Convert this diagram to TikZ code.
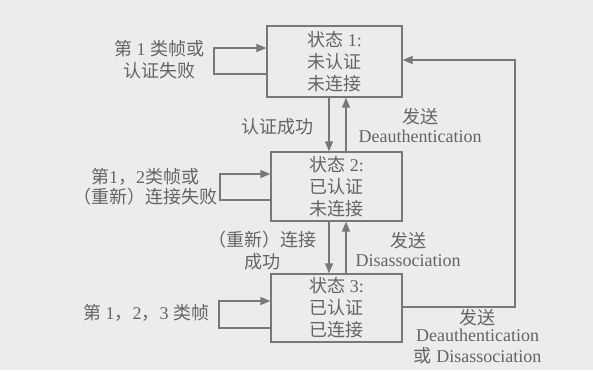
\documentclass[tikz,border=0pt]{standalone}
\usepackage{fontspec}
\setmainfont{Liberation Serif}
\newfontfamily\cjk{Noto Sans CJK SC}
\usetikzlibrary{arrows.meta}
\definecolor{bgc}{RGB}{236,236,234}
\definecolor{linec}{RGB}{120,120,120}
\definecolor{txtc}{RGB}{100,100,100}
\newcommand{\zh}[1]{{\cjk #1}}
\begin{document}
\begin{tikzpicture}[x=1pt,y=-1pt,
  state/.style={draw=linec, line width=1.3pt, align=center, inner sep=0pt, text=txtc, font=\fontsize{18}{22}\selectfont},
  lbl/.style={text=txtc, align=center, inner sep=0pt, font=\fontsize{18}{22}\selectfont},
  arr/.style={draw=linec, line width=1.3pt, -{Triangle[length=10pt,width=8pt]}}]
\fill[bgc] (0,0) rectangle (593,370);
\useasboundingbox (0,0) rectangle (593,370);
\node[state, minimum width=135pt, minimum height=71pt] (b1) at (334.5,61.5) {\zh{状态} 1:\\\zh{未认证}\\\zh{未连接}};
\node[state, minimum width=131pt, minimum height=69pt] (b2) at (336.5,186.5) {\zh{状态} 2:\\\zh{已认证}\\\zh{未连接}};
\node[state, minimum width=131pt, minimum height=68pt] (b3) at (336.5,308) {\zh{状态} 3:\\\zh{已认证}\\\zh{已连接}};
% self loops
\coordinate (l1a) at (214,74); \coordinate (l1b) at (214,48);
\draw[arr] (b1.west |- l1a) -- (l1a) -- (l1b) -- (b1.west |- l1b);
\coordinate (l2a) at (220,200); \coordinate (l2b) at (220,174);
\draw[arr] (b2.west |- l2a) -- (l2a) -- (l2b) -- (b2.west |- l2b);
\coordinate (l3a) at (219,328); \coordinate (l3b) at (219,301);
\draw[arr] (b3.west |- l3a) -- (l3a) -- (l3b) -- (b3.west |- l3b);
% vertical transitions
\coordinate (dn) at (329,0); \coordinate (up) at (346,0);
\draw[arr] (dn |- b1.south) -- (dn |- b2.north);
\draw[arr] (up |- b2.north) -- (up |- b1.south);
\draw[arr] (dn |- b2.south) -- (dn |- b3.north);
\draw[arr] (up |- b3.north) -- (up |- b2.south);
% big right loop
\coordinate (r1) at (515,307); \coordinate (r2) at (515,60);
\draw[arr] (b3.east |- r1) -- (r1) -- (r2) -- (b1.east |- r2);
% labels
\node[lbl] (t1) at (159,60) {\zh{第} 1 \zh{类帧或}\\\zh{认证失败}};
\node[lbl] (t2) at (277,127) {\zh{认证成功}};
\node[lbl] (t3) at (420,125) {\zh{发送}\\[-3pt]Deauthentication};
\node[lbl] (t4) at (145,187) {\zh{第}1\zh{，}2\zh{类帧或}\\[-2pt]\zh{（重新）连接失败}};
\node[lbl] (t5) at (262,251) {\zh{（重新）连接}\\\zh{成功}};
\node[lbl] (t6) at (408,249.5) {\zh{发送}\\[-3pt]Disassociation};
\node[lbl] (t7) at (146,313) {\zh{第} 1\zh{，}2\zh{，}3 \zh{类帧}};
\node[lbl] (t8) at (477.5,337) {\zh{发送}\\[-5pt]Deauthentication\\[-1pt]\zh{或} Disassociation};
\end{tikzpicture}
\end{document}
